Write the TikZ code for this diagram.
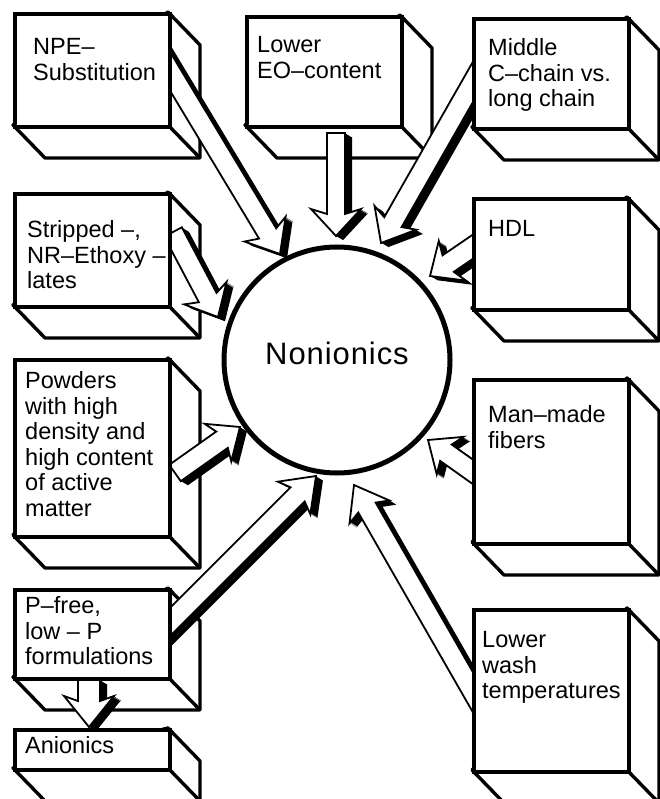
\documentclass[tikz,border=0pt]{standalone}
\usepackage{fontspec}
\setmainfont{Liberation Sans}
\usetikzlibrary{calc}

% obrys blokove sipky podel osy x: #1 pul sirky drieku, #2 pul sirky hlavy, #3 delka hlavy
\newcommand{\arrowoutline}[3]{(0pt,{-#1 pt}) -- ({\arrlen pt-#3 pt},{-#1 pt}) -- ({\arrlen pt-#3 pt-5pt},{-#2 pt}) -- (\arrlen pt,0pt) -- ({\arrlen pt-#3 pt-5pt},{#2 pt}) -- ({\arrlen pt-#3 pt},{#1 pt}) -- (0pt,{#1 pt}) -- cycle}
% sipka se stinem z bodu #1 do bodu #2
\newcommand{\blockarrow}[5]{%
  \path let \p1=(#1), \p2=(#2) in \pgfextra{%
    \pgfmathsetmacro{\tmpang}{atan2(\y2-\y1,\x2-\x1)}%
    \pgfmathsetmacro{\tmplen}{veclen(\x2-\x1,\y2-\y1)}%
    \pgfmathsetmacro{\tmpx}{\x1}\pgfmathsetmacro{\tmpy}{\y1}%
    \xdef\arrang{\tmpang}\xdef\arrlen{\tmplen}\xdef\arrx{\tmpx}\xdef\arry{\tmpy}};
  \foreach \s in {1,...,7}
    \fill[shift={({\arrx pt+\s pt},{\arry pt-0.6*\s pt})},rotate=\arrang] \arrowoutline{#3}{#4}{#5};
  \filldraw[fill=white,line width=1.8pt,shift={(\arrx pt,\arry pt)},rotate=\arrang] \arrowoutline{#3}{#4}{#5};
}

\begin{document}
\begin{tikzpicture}[x=1pt,y=-1pt,
  face/.style={fill=white,draw=black,line width=3.4pt,line join=round},
  front/.style={draw,fill=white,line width=3.6pt,inner sep=0pt,minimum width=155pt,anchor=north west},
  boxtext/.style={anchor=north west,inner sep=0pt,align=left,font=\fontsize{23.5}{25.5}\selectfont}]
  \useasboundingbox (0,0) rectangle (660,799);
  % stred
  \node[draw,circle,fill=white,line width=5pt,minimum size=226pt,inner sep=0pt] (core) at (337,360) {};
  \node[font=\fontsize{31}{36}\selectfont\addfontfeature{LetterSpace=3}] (core-txt) at (337,353) {Nonionics};
  % bocni a spodni steny krabic
  \foreach \x/\y/\h in {13/12/113,245/15/110,472/17/110,13/192/113,472/197/111,13/358/177,472/378/164,13/588/89,472/608/162,13/728/40} {
    \filldraw[face] (\x+155,\y) -- ++(32,33) -- ++(0,\h) -- ++(-155,0) -- ++(-32,-33) -- cycle;
    \draw[face] (\x+155,\y+\h) -- ++(32,33);
  }
  % konce sipek
  \coordinate (npe-s) at (156,48);   \coordinate (npe-e) at (280,254);
  \coordinate (eo-s) at (336,133);   \coordinate (eo-e) at (336,236);
  \coordinate (chain-s) at (490,52); \coordinate (chain-e) at (381,243);
  \coordinate (hdl-s) at (490,235);  \coordinate (hdl-e) at (430,276);
  \coordinate (strip-s) at (173,232);\coordinate (strip-e) at (218,317);
  \coordinate (powd-s) at (175,473); \coordinate (powd-e) at (240,427);
  \coordinate (pfree-s) at (155,637);\coordinate (pfree-e) at (316,476);
  \coordinate (wash-s) at (490,722); \coordinate (wash-e) at (354,485);
  \coordinate (fiber-s) at (490,484);\coordinate (fiber-e) at (428,440);
  \coordinate (anion-s) at (89,680); \coordinate (anion-e) at (89,727);
  \foreach \a/\b/\w/\hw/\hl in {npe-s/npe-e/10/24/24,eo-s/eo-e/9/25/22,chain-s/chain-e/10/24/24,hdl-s/hdl-e/10/24/22,strip-s/strip-e/10/24/22,powd-s/powd-e/10/23/22,pfree-s/pfree-e/10/23/26,wash-s/wash-e/10/23/26,fiber-s/fiber-e/10/23/22,anion-s/anion-e/11/25/26}
    \blockarrow{\a}{\b}{\w}{\hw}{\hl};
  % predni steny
  \foreach \n/\x/\y/\h in {npe/13/12/113,eo/245/15/110,chain/472/17/110,strip/13/192/113,hdl/472/197/111,powd/13/358/177,fiber/472/378/164,pfree/13/588/89,wash/472/608/162,anion/13/728/40}
    \node[front,minimum height=\h pt] (\n) at (\x,\y) {};
  % popisky
  \node[boxtext] (npe-txt) at ([xshift=20pt,yshift=-26.5pt]npe.north west) {NPE--\\Substitution};
  \node[boxtext] (eo-txt) at ([xshift=12pt,yshift=-21.5pt]eo.north west) {Lower\\EO--content};
  \node[boxtext] (chain-txt) at ([xshift=16pt,yshift=-21.5pt]chain.north west) {Middle\\C--chain vs.\\long chain};
  \node[boxtext] (strip-txt) at ([xshift=14pt,yshift=-28.5pt]strip.north west) {Stripped --,\\NR--Ethoxy --\\lates};
  \node[boxtext] (hdl-txt) at ([xshift=16pt,yshift=-23.5pt]hdl.north west) {HDL};
  \node[boxtext] (powd-txt) at ([xshift=12pt,yshift=-13.5pt]powd.north west) {Powders\\with high\\density and\\high content\\of active\\matter};
  \node[boxtext] (fiber-txt) at ([xshift=16pt,yshift=-27.5pt]fiber.north west) {Man--made\\fibers};
  \node[boxtext] (pfree-txt) at ([xshift=12pt,yshift=-8.5pt]pfree.north west) {P--free,\\low -- P\\formulations};
  \node[boxtext] (wash-txt) at ([xshift=10pt,yshift=-23.5pt]wash.north west) {Lower\\wash\\temperatures};
  \node[boxtext] (anion-txt) at ([xshift=12pt,yshift=-8.5pt]anion.north west) {Anionics};
\end{tikzpicture}
\end{document}
